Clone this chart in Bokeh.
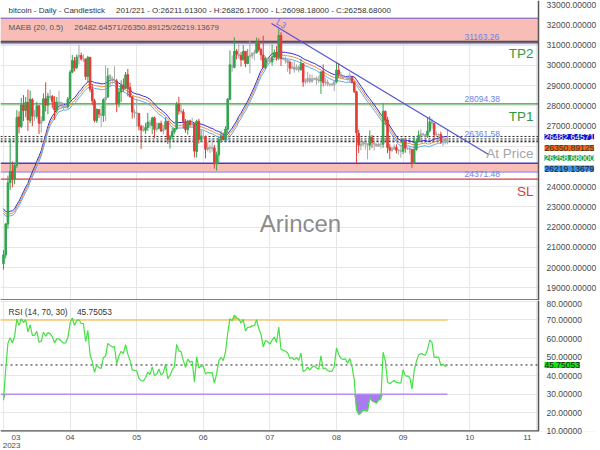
import numpy as np
import pandas as pd
from bokeh.plotting import figure
from bokeh.layouts import column
from bokeh.models import (Range1d, FixedTicker, PrintfTickFormatter, Span, BoxAnnotation,
                          Label, ColumnDataSource, Grid)
from bokeh.embed import file_html
from bokeh.resources import INLINE

FONT = "Liberation Sans"

# ---- data: 20 warm-up closes (hidden) + 201 daily candles ----
prior_close = [24190, 24833, 24436, 24188, 23947, 23198, 23175, 23561, 23522, 23147,
               23646, 23475, 22362, 22354, 22435, 22429, 22219, 21718, 20363, 20187]

open_ = [
    20188, 20628, 22156, 24201, 24770, 24373, 25055, 27448, 26970, 28041,
    27768, 28159, 27267, 28300, 27476, 27494, 27994, 27133, 27268, 28350,
    28033,
    28473, 28462, 28183, 27795, 28169, 28175, 28038, 27920, 27952, 28336,
    29655, 30231, 29892, 30409, 30490, 30315, 30317, 29449, 30395, 28823,
    28249, 27265, 27816, 27591, 27514, 28300, 28428, 29481, 29336, 29245,
    29227, 28087, 28680, 29031, 28851, 29538, 28902, 28451, 27695, 27655,
    27621, 26987, 26807, 26788, 26931, 27171, 27035, 27404, 26826, 26889,
    27119, 26749, 26855, 27225, 26329, 26474, 26720, 26872, 28085, 27745, 27700,
    27218, 26824, 27252, 27075, 27123, 25732, 27235, 26342, 26497, 26478,
    25837, 25935, 25902, 25920, 25122, 25575, 26328, 26510, 26335, 26841,
    28311, 29996, 29896, 30709, 30549, 30480, 30274, 30696, 30086, 30441,
    30471, 30587, 30624, 31156, 30778, 30508, 29910, 30346, 30292, 30172,
    30417, 30622, 30387, 31474, 30332, 30297, 30249, 30147, 29862, 29915,
    29806, 29908, 29790, 30081, 29178, 29226, 29353, 29212, 29319, 29357, 29278,
    29230, 29705, 29161, 29174, 29075, 29043, 29038, 29180, 29766, 29563,
    29424, 29399, 29416, 29284, 29408, 29170, 28699, 26636, 26047, 26097,
    26189, 26125, 26053, 26434, 26180, 26100, 26009, 26097, 26097, 27726, 27301,
    25935, 25800, 25869, 25941, 25795, 25780, 25749, 26245, 25905, 25895,
    25831, 25161, 25837, 26228, 26533, 26609, 26567, 26532, 26760, 27210,
    27129, 26564, 26578, 26579, 26253, 26298, 26211.613]

high = [
    20868, 22185, 24550, 26386, 25250, 25167, 27787, 27725, 28390, 28527,
    28439, 28803, 28754, 28374, 27791, 28194, 28037, 27480, 28619, 29159,
    28640,
    28802, 28529, 28475, 28433, 28739, 28178, 28111, 28154, 28445, 29771,
    30509, 30408, 30539, 31005, 30627, 30550, 30319, 30470, 30411, 29076,
    28349, 27872, 27820, 28000, 28371, 30000, 29872, 29572, 29452, 29952,
    29329, 28881, 29259, 29353, 29668, 29820, 29138, 28451, 27821, 28323,
    27621, 27055, 27030, 27150, 27646, 27299, 27465, 27466, 27183, 27155,
    27266, 27045, 27434, 27225, 26573, 26919, 26888, 28193, 28447, 28045, 27831,
    27346, 27303, 27317, 27407, 27129, 27313, 27355, 26787, 26776, 26531,
    26207, 26087, 26386, 26065, 25737, 26463, 26769, 26675, 26984, 28389,
    30737, 30495, 31389, 30806, 31042, 30660, 31006, 30703, 30796, 31256,
    30641, 30766, 31375, 31326, 30877, 31460, 30434, 30379, 30427, 31026,
    30788, 30959, 31814, 31630, 30407, 30437, 30336, 30233, 30184, 30195,
    30045, 29991, 30330, 30093, 29353, 29676, 29563, 29526, 29387, 29443, 29489,
    29690, 30047, 29375, 29302, 29102, 29160, 29244, 30176, 30093, 29688,
    29517, 29465, 29441, 29660, 29439, 29221, 28745, 26808, 26261, 26260,
    26220, 26135, 26786, 26554, 26269, 26125, 26167, 26218, 28142, 27760, 27456,
    26126, 25970, 26087, 26092, 25857, 26014, 26409, 26415, 25943, 25978,
    25883, 26510, 26376, 26774, 26840, 26668, 26619, 27409, 27489, 27375,
    27152, 26726, 26634, 26716, 26427, 26389, 26826.17]

low = [
    19895, 20448, 21918, 23839, 23964, 24124, 24930, 26636, 26889, 27242,
    27439, 26760, 27136, 27000, 27250, 27367, 26606, 26677, 27259, 27719,
    27583,
    28297, 27871, 27295, 27675, 27843, 27834, 27795, 27867, 27858, 28189,
    29610, 29700, 29815, 30044, 30234, 30161, 29278, 29154, 28670, 28037,
    27177, 27157, 27400, 26942, 27207, 27250, 28402, 28929, 29088, 29111,
    27680, 27924, 28191, 28694, 28845, 28468, 28395, 27367, 27375, 26958,
    26781, 25871, 26710, 26614, 26763, 26878, 26600, 26415, 26725, 26843,
    26707, 26586, 26816, 26107, 25878, 26342, 26601, 26802, 27560, 27588, 26866,
    26671, 26574, 26958, 26970, 25445, 25434, 26131, 26211, 26339, 25402,
    25741, 25668, 25728, 24896, 24797, 25172, 26183, 26311, 26260, 26652,
    28283, 29679, 29846, 30290, 30334, 29944, 30236, 29913, 30058, 29601,
    30330, 30258, 30586, 30659, 30250, 29892, 29799, 30056, 30085, 29985,
    30358, 30229, 30268, 29967, 30263, 30089, 29685, 29561, 29815, 29638,
    29733, 29640, 29730, 28934, 29062, 29113, 29104, 29125, 29265, 29033, 29131,
    28585, 28958, 29006, 28960, 28957, 28963, 28724, 29113, 29376, 29355,
    29320, 29357, 29254, 29125, 29088, 28630, 25166, 25668, 25801, 26004,
    25832, 25351, 25804, 25916, 25793, 25989, 25967, 25880, 25922, 27069, 25655,
    25362, 25718, 25817, 25645, 25580, 25434, 25609, 25677, 25810, 25599,
    24930, 25132, 25772, 26208, 26240, 26474, 26399, 26415, 26678, 26866,
    26389, 26495, 26521, 26111, 26011, 26090, 26098.18]

close = [
    20633, 22163, 24197, 24746, 24375, 25052, 27423, 26966, 28038, 27767,
    28175, 27307, 28333, 27493, 27494, 27994, 27139, 27268, 28348, 28033,
    28478,
    28411, 28199, 27790, 28168, 28177, 28044, 27925, 27947, 28333, 29653,
    30235, 29856, 30400, 30490, 30319, 30315, 29445, 30397, 28822, 28245,
    27276, 27817, 27591, 27525, 28307, 28422, 29473, 29340, 29248, 29268,
    28091, 28680, 29006, 28847, 29534, 28905, 28454, 27694, 27658, 27621,
    27000, 26804, 26785, 26931, 27192, 27036, 27398, 26833, 26890, 27129,
    26753, 26851, 27225, 26334, 26477, 26719, 26868, 28086, 27745, 27702, 27219,
    26819, 27249, 27075, 27119, 25760, 27238, 26345, 26498, 26477, 25841,
    25940, 25902, 25918, 25124, 25576, 26327, 26510, 26336, 26851, 28327,
    30027, 29912, 30695, 30548, 30480, 30271, 30689, 30086, 30445, 30477,
    30590, 30620, 31156, 30777, 30514, 29895, 30346, 30292, 30171, 30414,
    30620, 30391, 31476, 30334, 30295, 30249, 30145, 29856, 29913, 29792,
    29908, 29771, 30084, 29176, 29228, 29354, 29210, 29319, 29356, 29275, 29230,
    29675, 29151, 29178, 29074, 29042, 29041, 29180, 29766, 29561, 29429,
    29397, 29415, 29282, 29408, 29170, 28701, 26664, 26049, 26096, 26189,
    26125, 26056, 26432, 26181, 26101, 26009, 26089, 26107, 27726, 27297, 25931,
    25800, 25869, 25940, 25801, 25779, 25753, 26240, 25906, 25895, 25832,
    25163, 25833, 26228, 26539, 26609, 26568, 26534, 26754, 27211, 27132,
    26567, 26579, 26579, 26256, 26298, 26217, 26258.68]

NB = "\u00a0"
month_ticks = [0, 30, 60, 90, 120, 150, 180, 210, 240]
month_labels = ["03", "04", "05", "06", "07", "08", "09", "10", "11"]
year_label = "2023"
price_ticks = list(range(19000, 34000, 1000))
hidden_price_labels = [26000, 25000]   # covered by the value tags in the reference
rsi_ticks = [10, 20, 30, 40, 50, 60, 70, 80]

maeb_upper, maeb_mid, maeb_lower = 26482.64571, 26350.89125, 26219.13679
rsi_last = 45.75053
tp2, tp1, at_price, sl = 31163.26, 28094.38, 26361.58, 24371.48
upper_zone = (31080, 32350)
lower_zone = (24726, 25160)
trend_x = [120.7, 218.5]
trend_y = [32067, 25591]

# ---- derived series ----
n = min(len(open_), len(high), len(low), len(close))
o = np.array(open_[:n], float); h = np.array(high[:n], float)
l = np.array(low[:n], float); c = np.array(close[:n], float)
x = np.arange(n)
allc = np.array(prior_close + list(c))
ma = pd.Series(allc).rolling(20).mean().values[len(prior_close):]

d = np.diff(allc)
g = np.clip(d, 0, None); ls = np.clip(-d, 0, None)
ag = np.full(len(allc), np.nan); al = np.full(len(allc), np.nan)
ag[14] = g[:14].mean(); al[14] = ls[:14].mean()
for i in range(15, len(allc)):
    ag[i] = (ag[i - 1] * 13 + g[i - 1]) / 14
    al[i] = (al[i - 1] * 13 + ls[i - 1]) / 14
rsi_all = 100 - 100 / (1 + ag / al)
rsi = rsi_all[len(prior_close):]

GREEN, RED, GRAY = "#35a350", "#e23c35", "#a8a8a8"
cols = []
for oi, ci in zip(o, c):
    if abs(ci - oi) / oi < 0.005:
        cols.append(GRAY)
    elif ci > oi:
        cols.append(GREEN)
    else:
        cols.append(RED)
src = ColumnDataSource(dict(x=x, h=h, l=l, top=np.maximum(o, c), bot=np.minimum(o, c), col=cols))

# layout: plotting area 0..538 px, price labels drawn inside 538..594, 6px border
FRAME_W, PLOT_W = 594, 538
x_start, plot_end = -1.35, 241.0
XR = Range1d(x_start, x_start + (plot_end - x_start) * FRAME_W / PLOT_W)
GRID = "#e6e6e6"
BORDER = "#555555"


def style_right_axis(ax):
    ax.major_label_text_font = FONT
    ax.major_label_text_font_size = "8.5px"
    ax.major_label_text_color = "#4a4a4a"
    ax.axis_line_color = None
    ax.major_tick_line_color = None
    ax.minor_tick_line_color = None
    ax.major_tick_in = 0
    ax.major_tick_out = 0
    ax.major_label_standoff = -48


# ---- main price panel ----
p = figure(frame_width=FRAME_W, frame_height=300, x_range=XR, y_range=Range1d(18374, 33204),
           y_axis_location="right", x_axis_location=None, toolbar_location=None,
           output_backend="svg", min_border_left=0, min_border_top=0, min_border_bottom=0,
           min_border_right=6)
p.outline_line_color = None
p.yaxis.ticker = FixedTicker(ticks=price_ticks)
p.yaxis.formatter = PrintfTickFormatter(format="%.5f")
p.yaxis.major_label_overrides = {t: "" for t in hidden_price_labels}
style_right_axis(p.yaxis[0])
p.ygrid.grid_line_color = GRID
p.xgrid.visible = False
p.add_layout(Grid(dimension=0, ticker=FixedTicker(ticks=month_ticks), grid_line_color=GRID))
p.add_layout(BoxAnnotation(left=plot_end, fill_color="white", fill_alpha=1, line_color=None,
                           level="underlay"))

# zones
for z in (upper_zone, lower_zone):
    p.add_layout(BoxAnnotation(bottom=z[0], top=z[1], right=plot_end, fill_color="#f8bdb7",
                               fill_alpha=1, line_color=None, level="underlay"))
p.add_layout(BoxAnnotation(bottom=upper_zone[1], right=plot_end, fill_color="white", fill_alpha=1,
                           line_color=None))
lvl_y = [upper_zone[1], upper_zone[0], tp2, lower_zone[1], lower_zone[0], tp1, sl]
lvl_c = ["#3535c8", "#8c9cf0", "#4c4c5c", "#4a3ad0", "#9c9cf4", "#3a9a3a", "#e03a3a"]
lvl_w = [1.5, 1.5, 2, 1.5, 1.5, 1.2, 1.2]
for yv, cv, wv in zip(lvl_y, lvl_c, lvl_w):
    p.segment(x0=x_start, y0=yv, x1=plot_end, y1=yv, line_color=cv, line_width=wv)
dash_y = [maeb_upper, at_price, c[-1], maeb_lower]
p.segment(x0=x_start, y0=dash_y, x1=plot_end, y1=dash_y, line_color="#222222", line_width=1,
          line_dash="2 2")

# MAEB envelope
p.line(x, ma * 1.005, line_color="#2a2ad0", line_width=1)
p.line(x, ma, line_color="#f08a3a", line_width=1)
p.line(x, ma * 0.995, line_color="#5aa8f0", line_width=1)

# candles
p.segment(x0="x", y0="h", x1="x", y1="l", line_color="col", line_width=1, source=src)
p.vbar(x="x", width=0.7, top="top", bottom="bot", fill_color="col", line_color="col", source=src)

# trendline
p.line(trend_x, trend_y, line_color="#5252d6", line_width=1.2)
p.add_layout(Label(x=trend_x[0], y=trend_y[0], x_offset=3, y_offset=-2, text="L3", angle=-0.55,
                   text_font=FONT, text_font_size="9px", text_color="#7474e0"))

# borders of the plotting area
p.add_layout(Span(location=plot_end, dimension="height", line_color=BORDER, line_width=1.5))
p.segment(x0=x_start, y0=p.y_range.start, x1=plot_end, y1=p.y_range.start, line_color=BORDER,
          line_width=2.5)

# texts
title_txt = ("bitcoin - Daily - Candlestick" + NB * 5 +
             f"{n}/{n + len(prior_close)} - O:{o[-1]:.5f} - H:{h[-1]:.5f} - L:{l[-1]:.5f} - C:{c[-1]:.5f}")
p.add_layout(Label(x=8, y=290, x_units="screen", y_units="screen", text=title_txt, text_font=FONT,
                   text_font_size="8px", text_color="#333333", text_baseline="middle"))
p.add_layout(Label(x=8, y=273, x_units="screen", y_units="screen",
                   text=f"MAEB (20, 0.5)" + NB * 5 + f"{maeb_upper:.5f}/{maeb_mid:.5f}/{maeb_lower:.5f}",
                   text_font=FONT, text_font_size="8px", text_color="#555555",
                   text_baseline="middle"))
for val in [tp2, tp1, at_price, sl]:
    p.add_layout(Label(x=464, x_units="screen", y=val, y_offset=2, text=f"{val:.2f}",
                       text_font=FONT, text_font_size="8.5px", text_color="#6a84e6",
                       text_baseline="bottom"))
for txt, yy, colr in [("TP2", 247, "#2f9a3c"), ("TP1", 184, "#2f9a3c"),
                      ("At Price", 147, "#a6a6a6"), ("SL", 109, "#e03a3a")]:
    p.add_layout(Label(x=533, y=yy, x_units="screen", y_units="screen", text=txt, text_font=FONT,
                       text_font_size="13.5px", text_color=colr, text_align="right",
                       text_baseline="middle"))
p.add_layout(Label(x=300, y=77, x_units="screen", y_units="screen", text="Arincen", text_font=FONT,
                   text_font_size="24px", text_color="#7c7c7c", text_align="center",
                   text_baseline="middle", text_alpha=0.9))
for val, yy, bg, fg in [(maeb_upper, 163.5, "#1414c8", "white"), (maeb_mid, 152.5, "#f06a14", "#333333"),
                        (c[-1], 142.5, "#2aa44e", "white"), (maeb_lower, 132, "#3d90ea", "#1a1a1a")]:
    p.add_layout(Label(x=544, y=yy, x_units="screen", y_units="screen", text=f"{val:.5f}",
                       text_font=FONT, text_font_size="8.5px", text_color=fg, text_baseline="middle",
                       background_fill_color=bg, background_fill_alpha=1, level="overlay"))

# ---- RSI panel ----
r = figure(frame_width=FRAME_W, frame_height=131, x_range=XR, y_range=Range1d(9.9, 80.5),
           y_axis_location="right", toolbar_location=None, output_backend="svg",
           min_border_left=0, min_border_top=0, min_border_bottom=0, min_border_right=6)
r.outline_line_color = None
r.yaxis.ticker = FixedTicker(ticks=rsi_ticks)
r.yaxis.formatter = PrintfTickFormatter(format="%.5f")
style_right_axis(r.yaxis[0])
overrides = {t: lab for t, lab in zip(month_ticks, month_labels)}
overrides[month_ticks[0]] = NB * 5 + month_labels[0] + "\n" + NB + year_label
overrides[month_ticks[-1]] = month_labels[-1] + NB * 8
r.xaxis.ticker = FixedTicker(ticks=month_ticks)
r.xaxis.major_label_overrides = overrides
r.xaxis.major_label_text_font = FONT
r.xaxis.major_label_text_font_size = "8px"
r.xaxis.major_label_text_line_height = 0.9
r.xaxis.major_label_text_color = "#4a4a4a"
r.xaxis.axis_line_color = None
r.xaxis.major_tick_line_color = None
r.xaxis.minor_tick_line_color = None
r.xaxis.major_tick_out = 0
r.xaxis.major_tick_in = 0
r.xaxis.major_label_standoff = 1
r.grid.grid_line_color = GRID
r.add_layout(BoxAnnotation(left=plot_end, fill_color="white", fill_alpha=1, line_color=None,
                           level="underlay"))

r.varea(x=x, y1=np.minimum(rsi, 30), y2=30, fill_color="#a474f0", fill_alpha=0.95)
r.varea(x=x, y1=70, y2=np.maximum(rsi, 70), fill_color="#f5b450", fill_alpha=0.9)
r.segment(x0=x_start, y0=[70, 30], x1=x[-1], y1=[70, 30], line_color=["#f7c46c", "#b48cf2"],
          line_width=1.5)
r.segment(x0=x_start, y0=rsi_last, x1=plot_end, y1=rsi_last, line_color="#222222", line_width=1,
          line_dash="2 3")
r.line(x, rsi, line_color="#44e044", line_width=1.2)
r.add_layout(Span(location=plot_end, dimension="height", line_color=BORDER, line_width=1.5))
r.segment(x0=x_start, y0=r.y_range.start, x1=plot_end, y1=r.y_range.start, line_color=BORDER,
          line_width=2.5)
r.add_layout(Label(x=8, y=120, x_units="screen", y_units="screen",
                   text=f"RSI (14, 70, 30)" + NB * 4 + f"{rsi_last:.5f}", text_font=FONT,
                   text_font_size="8.4px", text_color="#333333", text_baseline="middle"))
r.add_layout(Label(x=544, y=rsi_last, x_units="screen", text=f"{rsi_last:.5f}", text_font=FONT,
                   text_font_size="8.5px", text_color="#1a1a1a", text_baseline="middle",
                   background_fill_color="#14e614", background_fill_alpha=1, level="overlay"))

layout = column(p, r, spacing=0)
open("out.html", "w").write(file_html(layout, INLINE))
